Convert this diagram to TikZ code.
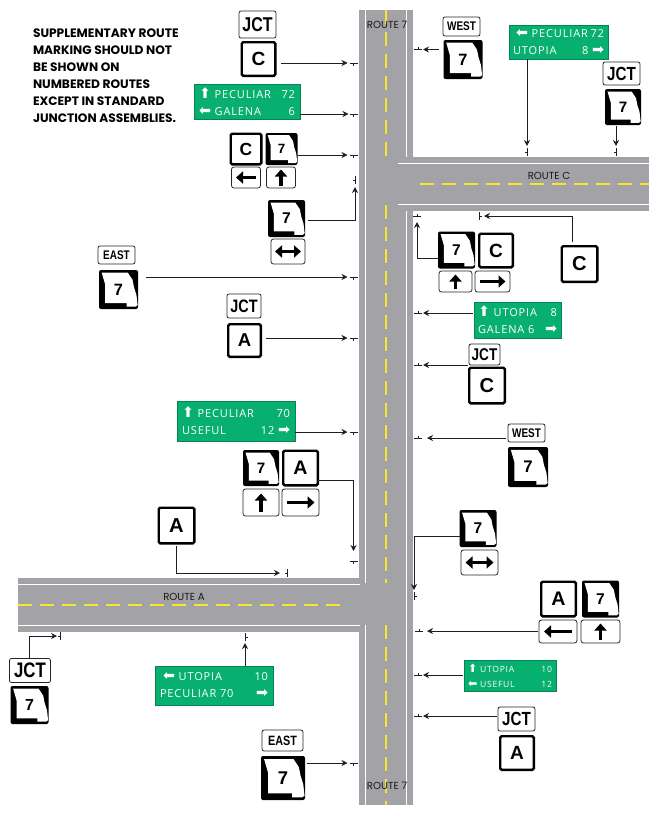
\documentclass[tikz,border=0pt]{standalone}
\usepackage{fontspec}
\usepackage{tikz}
\usetikzlibrary{arrows.meta,calc}
\setmainfont{Liberation Sans}
\newfontfamily\noteFont{Poppins}
\newfontfamily\plateFont[FakeStretch=0.8]{Liberation Sans}
\newfontfamily\greenFont[LetterSpace=8]{Open Sans}
\newfontfamily\arrowFont[Scale=1.3]{DejaVu Sans}
\definecolor{RoadGray}{RGB}{162,162,167}
\definecolor{LaneYellow}{RGB}{246,232,40}
\definecolor{SignGreen}{RGB}{8,176,112}
\definecolor{PenBlack}{RGB}{30,30,38}
\newcommand{\arUp}{{\arrowFont ⬆}}
\newcommand{\arLeft}{{\arrowFont ⬅}}
\newcommand{\arRight}{{\arrowFont ➡}}

\begin{document}
\begin{tikzpicture}[
      x=1pt,y=-1pt,
      every node/.style={inner sep=0pt,outer sep=0pt},
      roadEdge/.style={white,line width=1pt},
      laneMark/.style={LaneYellow,line width=1.6pt,dash pattern=on 14pt off 8pt},
      roadLabel/.style={font=\noteFont\fontsize{10.2}{11}\selectfont,text=black!90},
      textPlate/.style={draw=black!85,fill=white,rounded corners=2pt,line width=0.8pt,
                        font=\plateFont\bfseries\fontsize{#1}{#1}\selectfont},
      squareSign/.style={draw=black,fill=white,rounded corners=1.5pt,line width=2.4pt,
                         minimum size=#1-2.4,font=\bfseries\fontsize{\fpeval{#1*0.53}}{#1}\selectfont},
      shieldBack/.style={fill=black,rounded corners=2pt},
      endTip/.style={-{Triangle[length=7pt,width=12pt]}},
      bothTip/.style={{Triangle[length=7pt,width=12pt]}-{Triangle[length=7pt,width=12pt]}},
      arrowPlate/.style n args={3}{draw=black!85,fill=white,rounded corners=2.5pt,line width=0.8pt,
                         path picture={\draw[black,line width=3.2pt,#3]
                           (path picture bounding box.center) ++(#1+180:#2) -- ++(#1:2*#2);}},
      greenSign/.style={fill=SignGreen,draw=SignGreen!75!black,line width=0.6pt,text=white,
                        align=left,text width=#1,
                        font=\greenFont\fontsize{11}{17}\selectfont},
      arSign/.style={-{Stealth[length=6pt,width=6pt]},PenBlack,line width=0.9pt},
      postMark/.pic={\draw[PenBlack,line width=0.8pt] (-4,0) -- (4,0) (0,0) -- (0,2.5);}
    ]
    \useasboundingbox (0,0) rectangle (661,819);

    % Route 7, Route C and Route A pavement
    \fill[RoadGray] (359,10) rectangle (412.5,805);
    \fill[RoadGray] (400,157) rectangle (649,211);
    \fill[RoadGray] (18,578) rectangle (359,632);

    % Edge lines
    \draw[roadEdge] (365,10) -- (365,583) (365,625) -- (365,805);
    \draw[roadEdge] (406,10) -- (406,157) (406,211) -- (406,805);
    \draw[roadEdge] (398,163.5) -- (649,163.5) (398,204) -- (649,204);
    \draw[roadEdge] (18,584.5) -- (360,584.5) (18,625) -- (360,625);

    % Centre lines
    \draw[laneMark] (386,10) -- (386,163);
    \draw[laneMark] (386,205) -- (386,583);
    \draw[laneMark] (386,625) -- (386,805);
    \draw[laneMark] (420,184) -- (649,184);
    \draw[laneMark] (18,605) -- (344,605);

    % Road names
    \node(lbl7top)[roadLabel] at (387,25) {ROUTE 7};
    \node(lblC)[roadLabel] at (549,176) {ROUTE C};
    \node(lblA)[roadLabel] at (184,597) {ROUTE A};
    \node(lbl7low)[roadLabel] at (387,786) {ROUTE 7};

    % Note
    \node(note)[anchor=north west,align=left,
      font=\noteFont\bfseries\fontsize{12.2}{17}\selectfont] at (33,28.5)
      {SUPPLEMENTARY ROUTE\\MARKING SHOULD NOT\\BE SHOWN ON\\NUMBERED ROUTES\\%
       EXCEPT IN STANDARD\\JUNCTION ASSEMBLIES.};

    % Sign positions along the roads
    \foreach \nm/\px/\py/\rot in {
        m1/353.5/63/0,m2/353.5/114/0,m3/353.5/155/0,m4/355/180/-90,m5/353.5/277/0,
        m6/353.5/338/0,m7/353.5/432/0,m8/353.5/561/0,m9/287/573/-90,m10/60/636/-90,
        m11/245/637/90,m12/353.5/763/0,m13/418/49.5/180,m14/527/152/-90,m15/616/152/-90,
        m16/417/216/180,m17/479/216/90,m18/418/313/180,m19/418/365/180,m20/418/438/180,
        m21/414/596/90,m22/419/631/180,m23/418/675/180,m24/418/716/180}
      {\coordinate (\nm) at (\px,\py);
       \pic[rotate=\rot] at (\nm) {postMark};}

    % Route 7 shields
    \foreach \nm/\sx/\sy/\sz in {
        s2/281.5/149/32,s3/286.5/218.5/37,s4/118.5/289.5/39,s5/261/468/36,
        s6/29.5/705/38,s7/283/778/44,s8/463/59.5/39,s9/623/107/36,s10/456.5/250/37,
        s11/528/467/40,s12/478/528.5/37,s13/600.5/599/37}
      {\node(\nm)[shieldBack,minimum size=\sz] at (\sx,\sy) {};
       \fill[white,shift={(\nm.center)},x=\sz*0.01pt,y=-\sz*0.01pt]
         (-43,-43) -- (24,-43) -- (36,-25) -- (40,-5) -- (46,14) -- (49,40) -- (44,44)
         -- (21,44) -- (21,35) -- (-34,35) -- (-34,-12) -- cycle;
       \node(\nm n)[font=\bfseries\fontsize{\fpeval{\sz*0.42}}{\sz}\selectfont] at (\nm) {7};}

    % Left of Route 7, north of Route C
    \node(jct1)[textPlate=20,minimum width=37,minimum height=27] at (257.5,24.5) {JCT};
    \node(c1)[squareSign=36] at (258.5,59) {C};
    \node(g1)[greenSign=96,minimum height=35,inner xsep=5pt,inner ysep=0pt] at (247,101.5)
      {\arUp\ PECULIAR\hfill 72\\\arLeft\ GALENA\hfill 6};
    \node(c2)[squareSign=33] at (246,149) {C};
    \node(p2a)[arrowPlate={180}{10}{endTip},minimum width=29,minimum height=21] at (246,177.5) {};
    \node(p2b)[arrowPlate={-90}{8}{endTip},minimum width=29,minimum height=21] at (281,177.5) {};
    \node(p3)[arrowPlate={0}{13}{bothTip},minimum width=34,minimum height=25] at (288,251.5) {};

    % Left of Route 7, between the junctions
    \node(east1)[textPlate=12.5,minimum width=37,minimum height=18] at (116.5,255) {EAST};
    \node(jct2)[textPlate=18,minimum width=34,minimum height=24] at (244,306) {JCT};
    \node(a2)[squareSign=35] at (244.5,340.5) {A};
    \node(g2)[greenSign=108,minimum height=40,inner xsep=5pt,inner ysep=0pt] at (236,421)
      {\arUp\ PECULIAR\hfill 70\\USEFUL\hfill 12 \arRight};
    \node(a3)[squareSign=37] at (300.5,468) {A};
    \node(p5a)[arrowPlate={-90}{9}{endTip},minimum width=36,minimum height=27] at (261,502.5) {};
    \node(p5b)[arrowPlate={0}{14}{endTip},minimum width=37,minimum height=27] at (300.5,502.5) {};
    \node(a4)[squareSign=38] at (176.5,525.5) {A};

    % South of Route A
    \node(jct3)[textPlate=21,minimum width=41,minimum height=24] at (30,670.5) {JCT};
    \node(g3)[greenSign=108,minimum height=39,inner xsep=5pt,inner ysep=0pt] at (214,685.5)
      {\hspace*{3pt}\arLeft\ UTOPIA\hfill 10\\PECULIAR\ 70\hfill\arRight};
    \node(east2)[textPlate=13.5,minimum width=41,minimum height=21] at (282.5,740.5) {EAST};

    % Right of Route 7, north of Route C
    \node(west1)[textPlate=12.5,minimum width=37,minimum height=19] at (461.5,26.5) {WEST};
    \node(g4)[greenSign=91,minimum height=34,inner xsep=4pt,inner ysep=0pt] at (558.5,42)
      {\hspace*{3pt}\arLeft\ PECULIAR\hfill 72\\UTOPIA\hfill 8 \arRight};
    \node(jct4)[textPlate=19,minimum width=37,minimum height=23] at (621.5,73.5) {JCT};

    % Right of Route 7, between the junctions
    \node(c5)[squareSign=36] at (496,250.5) {C};
    \node(p10a)[arrowPlate={-90}{7}{endTip},minimum width=33,minimum height=21] at (455.5,281.5) {};
    \node(p10b)[arrowPlate={0}{13}{endTip},minimum width=35,minimum height=21] at (492.5,281.5) {};
    \node(c6)[squareSign=38] at (579.5,264) {C};
    \node(g5)[greenSign=79,minimum height=36,inner xsep=4pt,inner ysep=0pt] at (517.5,320)
      {\arUp\ UTOPIA\hfill 8\\GALENA\ 6\hfill\arRight};
    \node(jct5)[textPlate=17,minimum width=31,minimum height=21] at (484.5,354.5) {JCT};
    \node(c7)[squareSign=38] at (487,385.5) {C};
    \node(west2)[textPlate=12.5,minimum width=37,minimum height=18] at (526.5,433) {WEST};
    \node(p12)[arrowPlate={0}{14}{bothTip},minimum width=37,minimum height=25] at (479.5,562.5) {};

    % Right of Route 7, south of Route A
    \node(a8)[squareSign=37] at (558.5,599) {A};
    \node(p13a)[arrowPlate={180}{14}{endTip},minimum width=38,minimum height=23] at (558,631.5) {};
    \node(p13b)[arrowPlate={-90}{8}{endTip},minimum width=39,minimum height=23] at (600.5,631.5) {};
    \node(g6)[greenSign=84,minimum height=31,inner xsep=4pt,inner ysep=0pt,
      font=\greenFont\fontsize{8.6}{15}\selectfont] at (510,675.5)
      {\arUp\ UTOPIA\hfill 10\\\arLeft\ USEFUL\hfill 12};
    \node(jct6)[textPlate=19,minimum width=37,minimum height=24] at (516.5,719) {JCT};
    \node(a9)[squareSign=36] at (517,753) {A};

    % Connectors on the west side
    \draw[arSign,shorten <=6pt,shorten >=6pt] (c1.east |- m1) -- (m1);
    \draw[arSign,shorten >=5pt] (g1.east |- m2) -- (m2);
    \draw[arSign,shorten >=6pt] (s2.east |- m3) -- (m3);
    \draw[arSign,shorten >=7pt] ([yshift=-2,xshift=3]s3.east) -| (m4);
    \draw[arSign,shorten <=8pt,shorten >=6pt] (s4.east |- m5) -- (m5);
    \draw[arSign,shorten <=5pt,shorten >=6pt] (a2.east |- m6) -- (m6);
    \draw[arSign,shorten >=6pt] (g2.east |- m7) -- (m7);
    \draw[arSign,shorten >=10pt] ([yshift=-12]a3.east) -| (m8);
    \draw[arSign,shorten <=3pt,shorten >=7pt] (a4.south) |- (m9);
    \draw[arSign,shorten >=3pt] ([xshift=-1]jct3.north) |- (m10);
    \draw[arSign,shorten >=6pt] (g3.north -| m11) -- (m11);
    \draw[arSign,shorten <=2pt,shorten >=6pt] (s7.east |- m12) -- (m12);

    % Connectors on the east side
    \draw[arSign,shorten <=5pt,shorten >=5pt] (s8.west |- m13) -- (m13);
    \draw[arSign,shorten >=6pt] (g4.south -| m14) -- (m14);
    \draw[arSign,shorten <=1pt,shorten >=6pt] (s9.south -| m15) -- (m15);
    \draw[arSign,shorten >=6pt] ([yshift=-8]s10.west) -| (m16);
    \draw[arSign,shorten <=4pt,shorten >=5pt] ([xshift=-7]c6.north) |- (m17);
    \draw[arSign,shorten <=1pt,shorten >=5pt] (g5.west |- m18) -- (m18);
    \draw[arSign,shorten <=1pt,shorten >=5pt] (c7.west |- m19) -- (m19);
    \draw[arSign,shorten <=2pt,shorten >=9pt] (west2.west |- m20) -- (m20);
    \draw[arSign,shorten >=6pt] ([yshift=-8]s12.west) -| (m21);
    \draw[arSign,shorten <=1pt,shorten >=8pt] (p13a.west |- m22) -- (m22);
    \draw[arSign,shorten <=1pt,shorten >=5pt] (g6.west |- m23) -- (m23);
    \draw[arSign,shorten <=1pt,shorten >=5pt] (jct6.west |- m24) -- (m24);
  \end{tikzpicture}
\end{document}
